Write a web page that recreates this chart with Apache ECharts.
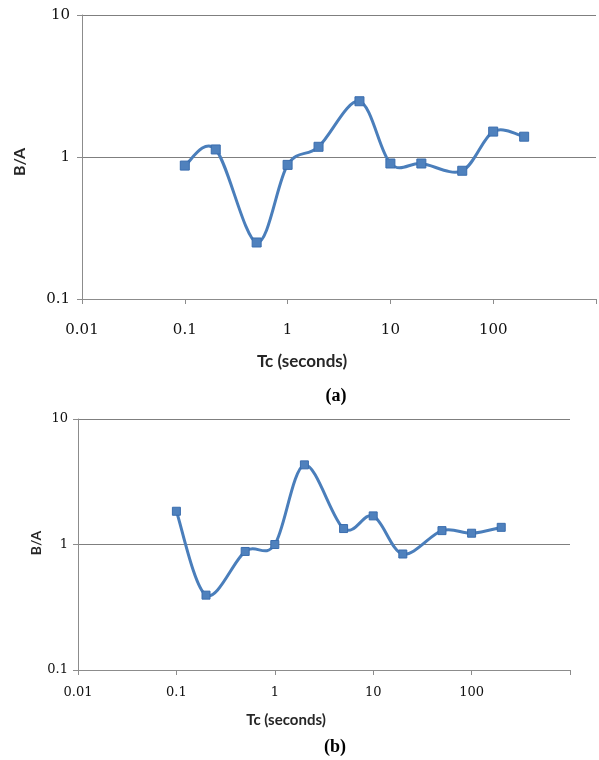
<!DOCTYPE html>
<html>
<head>
<meta charset="utf-8">
<script src="https://cdn.jsdelivr.net/npm/echarts@6/dist/echarts.min.js"></script>
<style>
html,body{margin:0;padding:0;background:#fff;}
#chart{width:599px;height:760px;}
</style>
</head>
<body>
<div id="chart"></div>
<script>
// Data
const tcA = [0.1, 0.2, 0.5, 1, 2, 5, 10, 20, 50, 100, 200];
const baA = [0.87, 1.13, 0.25, 0.88, 1.18, 2.47, 0.90, 0.90, 0.80, 1.51, 1.39];
const tcB = [0.1, 0.2, 0.5, 1, 2, 5, 10, 20, 50, 100, 200];
const baB = [1.84, 0.395, 0.88, 1.0, 4.31, 1.34, 1.69, 0.84, 1.29, 1.23, 1.37];
const xRange = [0.01, 1000];
const yRange = [0.1, 10];
const xTitle = 'Tc (seconds)';
const yTitle = 'B/A';
const panelLabels = ['(a)', '(b)'];

const BLUE = '#4A7EBB';
const GRAY = '#8c8c8c';

function fmt(v) {
  const s = +Number(v).toPrecision(6);
  return s >= 1000 ? '' : String(s);
}
function pairs(xs, ys) { return xs.map((x, i) => [x, ys[i]]); }

function xAxis(gi, fs, margin) {
  return {
    type: 'log', logBase: 10, gridIndex: gi, min: xRange[0], max: xRange[1],
    axisLine: { show: true, lineStyle: { color: GRAY, width: 1 } },
    axisTick: { show: true, length: 5, lineStyle: { color: GRAY } },
    minorTick: { show: false },
    splitLine: { show: false },
    axisLabel: { formatter: fmt, fontFamily: 'DejaVu Serif', fontSize: fs, color: '#111', margin: margin, showMaxLabel: true, showMinLabel: true }
  };
}
function yAxis(gi, fs, margin) {
  return {
    type: 'log', logBase: 10, gridIndex: gi, min: yRange[0], max: yRange[1],
    axisLine: { show: true, lineStyle: { color: GRAY, width: 1 } },
    axisTick: { show: true, length: 5, lineStyle: { color: GRAY } },
    splitLine: { show: true, lineStyle: { color: '#7f7f7f', width: 1 } },
    axisLabel: { formatter: fmt, fontFamily: 'DejaVu Serif', fontSize: fs, color: '#111', margin: margin }
  };
}
// Excel-style smoothed line (Catmull-Rom style Bezier), positioned through the axes' scales
function curve(gi, xs, ys) {
  const n = xs.length;
  return {
    type: 'custom', coordinateSystem: 'cartesian2d', xAxisIndex: gi, yAxisIndex: gi,
    data: pairs(xs, ys), encode: { x: 0, y: 1 }, z: 2, animation: false, silent: true,
    renderItem: function (params, api) {
      const i = params.dataIndex;
      if (i >= n - 1) return null;
      const c = k => { k = Math.max(0, Math.min(n - 1, k)); return api.coord([xs[k], ys[k]]); };
      const p0 = c(i - 1), p1 = c(i), p2 = c(i + 1), p3 = c(i + 2);
      const t = 1 / 6;
      return {
        type: 'bezierCurve',
        shape: {
          x1: p1[0], y1: p1[1], x2: p2[0], y2: p2[1],
          cpx1: p1[0] + (p2[0] - p0[0]) * t, cpy1: p1[1] + (p2[1] - p0[1]) * t,
          cpx2: p2[0] - (p3[0] - p1[0]) * t, cpy2: p2[1] - (p3[1] - p1[1]) * t
        },
        style: { stroke: BLUE, lineWidth: 3, fill: null, lineCap: 'round', lineJoin: 'round' }
      };
    }
  };
}
function markers(gi, xs, ys, size) {
  return {
    type: 'scatter', xAxisIndex: gi, yAxisIndex: gi, data: pairs(xs, ys),
    symbol: 'rect', symbolSize: size, z: 3, animation: false,
    itemStyle: { color: '#4F81BD', borderColor: '#3A6DAE', borderWidth: 1, opacity: 1 }
  };
}

const chart = echarts.init(document.getElementById('chart'), null, { renderer: 'canvas' });
chart.setOption({
  backgroundColor: '#ffffff',
  animation: false,
  grid: [
    { left: 82, top: 15, width: 515, height: 284 },
    { left: 78, top: 419, width: 492, height: 251 }
  ],
  xAxis: [xAxis(0, 15, 24), xAxis(1, 13, 16)],
  yAxis: [yAxis(0, 15, 12), yAxis(1, 13, 10)],
  series: [curve(0, tcA, baA), markers(0, tcA, baA, 9), curve(1, tcB, baB), markers(1, tcB, baB, 8)],
  graphic: [
    { type: 'text', x: 20, y: 162, rotation: Math.PI / 2,
      style: { text: yTitle, font: 'bold 16px Lato', fill: '#262626', textAlign: 'center', textVerticalAlign: 'middle' } },
    { type: 'text', x: 302, y: 362,
      style: { text: xTitle, font: 'bold 17px Lato', fill: '#262626', textAlign: 'center', textVerticalAlign: 'middle' } },
    { type: 'text', x: 336, y: 396,
      style: { text: panelLabels[0], font: 'bold 18px "Liberation Serif"', fill: '#000', textAlign: 'center', textVerticalAlign: 'middle' } },
    { type: 'text', x: 36, y: 543, rotation: Math.PI / 2,
      style: { text: yTitle, font: 'bold 14px Lato', fill: '#262626', textAlign: 'center', textVerticalAlign: 'middle' } },
    { type: 'text', x: 286, y: 720,
      style: { text: xTitle, font: 'bold 15px Lato', fill: '#262626', textAlign: 'center', textVerticalAlign: 'middle' } },
    { type: 'text', x: 335, y: 747,
      style: { text: panelLabels[1], font: 'bold 18px "Liberation Serif"', fill: '#000', textAlign: 'center', textVerticalAlign: 'middle' } }
  ]
});
</script>
</body>
</html>
